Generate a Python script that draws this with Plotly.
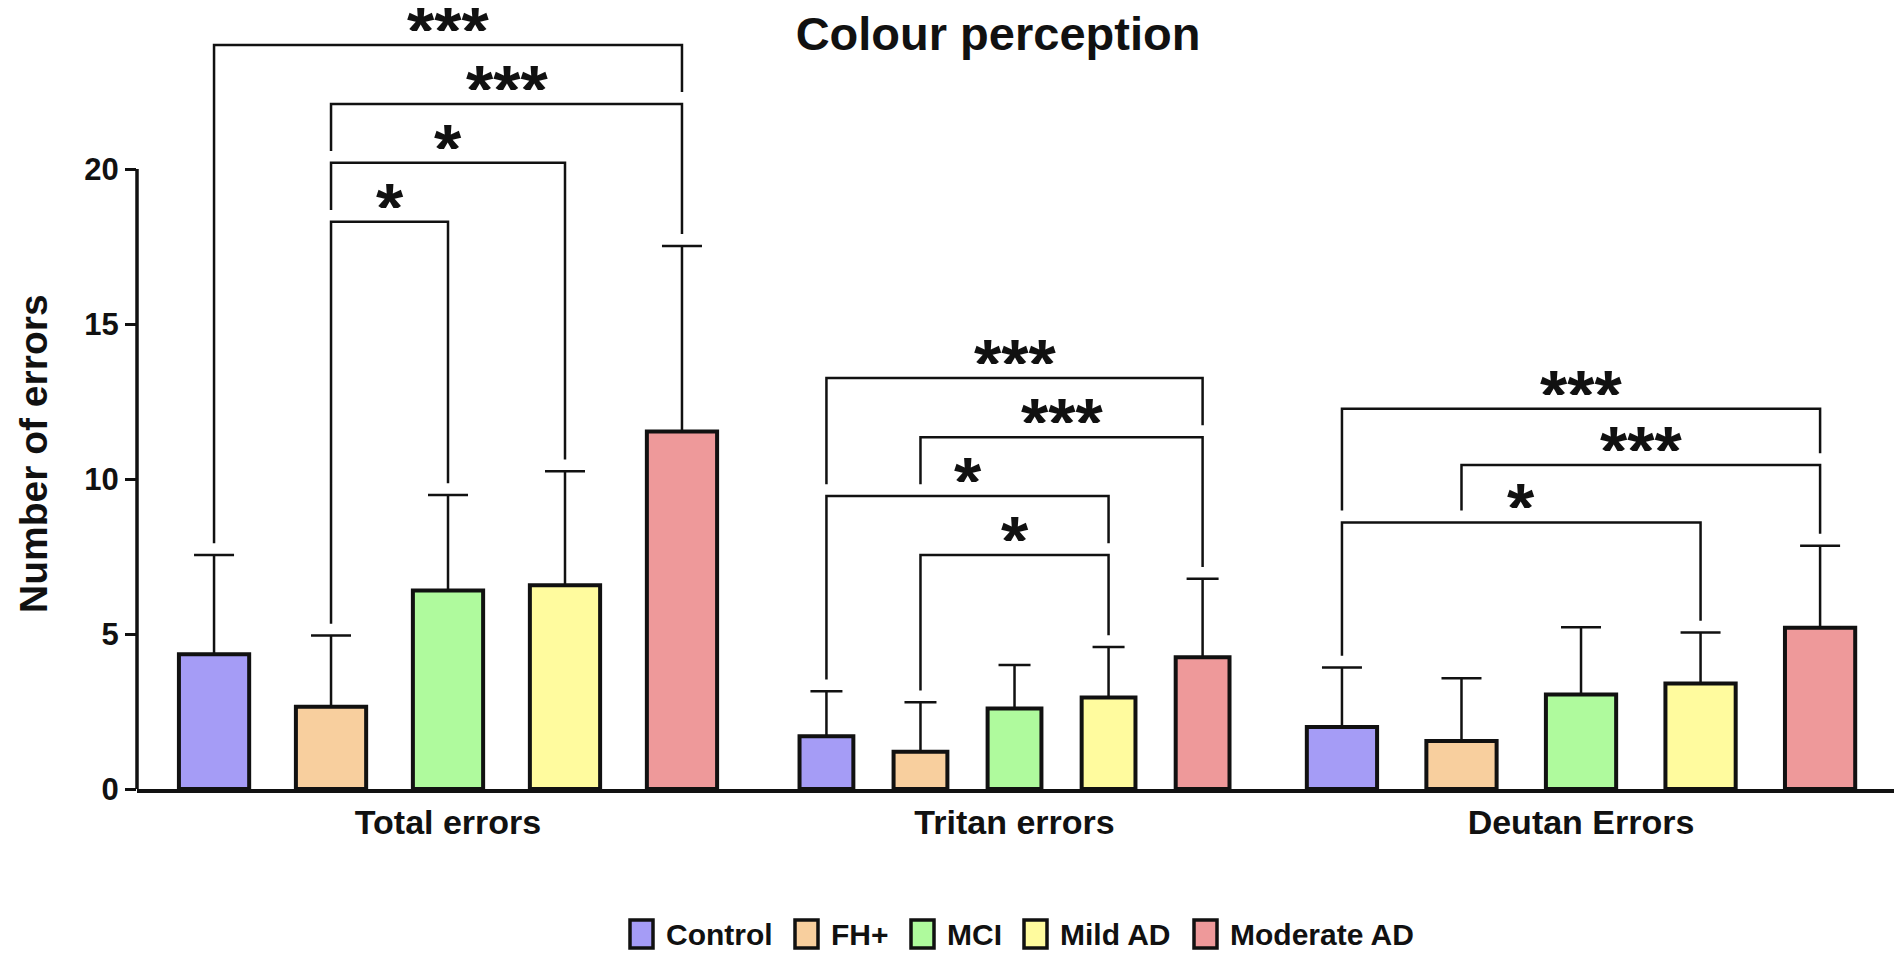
import plotly.graph_objects as go

# ---- data ----
CATEGORIES = ["Total errors", "Tritan errors", "Deutan Errors"]
GROUPS = ["Control", "FH+", "MCI", "Mild AD", "Moderate AD"]

control_mean = [4.35, 1.70, 2.00]
fh_mean = [2.65, 1.20, 1.55]
mci_mean = [6.40, 2.60, 3.05]
mild_mean = [6.57, 2.95, 3.40]
moderate_mean = [11.53, 4.25, 5.20]

control_sd = [3.20, 1.45, 1.92]
fh_sd = [2.30, 1.60, 2.02]
mci_sd = [3.08, 1.40, 2.17]
mild_sd = [3.68, 1.63, 1.65]
moderate_sd = [5.99, 2.53, 2.65]

# significance brackets (category, left group, right group, bracket level, stars)
sig_category = [0, 0, 0, 0, 1, 1, 1, 1, 2, 2, 2]
sig_left = [0, 1, 1, 1, 0, 1, 0, 1, 0, 1, 0]
sig_right = [4, 4, 3, 2, 4, 4, 3, 3, 4, 4, 3]
sig_level = [24.0, 22.1, 20.2, 18.3, 13.26, 11.35, 9.45, 7.55, 12.27, 10.45, 8.6]
sig_label = ["***", "***", "*", "*", "***", "***", "*", "*", "***", "***", "*"]

y_ticks = [0, 5, 10, 15, 20]

# ---- styling ----
means = [control_mean, fh_mean, mci_mean, mild_mean, moderate_mean]
sds = [control_sd, fh_sd, mci_sd, mild_sd, moderate_sd]
colors = ["#a59cf6", "#f8cf9e", "#affa9d", "#fffb9e", "#ee999a"]

bar_spacing = [0.2065, 0.166, 0.211]   # distance between bar centres, per category
bar_width = [0.124, 0.095, 0.124]
cap_width = [20, 16, 20]
gap = 0.38
FONT = "Liberation Sans, Arial, sans-serif"
INK = "#111111"

W, H = 1902, 958
M_L, M_R, M_T, M_B = 129, 14, 0, 177
PW, PH = W - M_L - M_R, H - M_T - M_B


def bar_pos(cat, k):
    return cat + (k - 2) * bar_spacing[cat]


def px_x(px):
    return (px - M_L) / PW


def px_y(py):
    return (H - M_B - py) / PH


fig = go.Figure()

for k, name in enumerate(GROUPS):
    for c in range(len(CATEGORIES)):
        fig.add_trace(go.Bar(
            x=[bar_pos(c, k)],
            y=[means[k][c]],
            width=[bar_width[c]],
            name=name,
            showlegend=False,
            marker=dict(color=colors[k], line=dict(color=INK, width=4)),
            error_y=dict(type="data", symmetric=False, array=[sds[k][c]], arrayminus=[0],
                         width=cap_width[c], thickness=2.5, color=INK),
        ))

shapes = []
annotations = []

# y axis line only up to 20
shapes.append(dict(type="line", xref="paper", yref="y", x0=0, x1=0, y0=-0.05, y1=max(y_ticks),
                   line=dict(color=INK, width=3.5)))


def leg_bottom(i, k):
    c = sig_category[i]
    lows = [means[k][c] + sds[k][c]]
    for j in range(len(sig_level)):
        if j != i and sig_category[j] == c and sig_level[j] < sig_level[i] \
                and sig_left[j] <= k <= sig_right[j]:
            lows.append(sig_level[j])
    return max(lows) + gap


for i in range(len(sig_level)):
    c = sig_category[i]
    xl = bar_pos(c, sig_left[i])
    xr = bar_pos(c, sig_right[i])
    lvl = sig_level[i]
    bl = leg_bottom(i, sig_left[i])
    br = leg_bottom(i, sig_right[i])
    shapes.append(dict(type="path", xref="x", yref="y",
                       path=f"M {xl},{bl} L {xl},{lvl} L {xr},{lvl} L {xr},{br}",
                       line=dict(color=INK, width=2.5)))
    # the asterisk sits high in its line box, so keep only the top part of the box
    annotations.append(dict(x=(xl + xr) / 2, y=lvl, xref="x", yref="y", text=sig_label[i],
                            showarrow=False, yanchor="bottom", yshift=12,
                            height=38, valign="top",
                            font=dict(family=FONT, size=70, color=INK, weight="bold")))

# y axis title
annotations.append(dict(x=px_x(25), y=px_y(446), xref="paper", yref="paper",
                        text="Number of errors", textangle=-90, showarrow=False,
                        xanchor="center", yanchor="middle",
                        font=dict(family=FONT, size=39, color=INK, weight="bold")))

# legend drawn by hand to get the large outlined swatches
legend_x = [622, 787, 903, 1016, 1186]
for k, name in enumerate(GROUPS):
    x0 = legend_x[k]
    shapes.append(dict(type="rect", xref="paper", yref="paper",
                       x0=px_x(x0), x1=px_x(x0 + 23), y0=px_y(940), y1=px_y(912),
                       fillcolor=colors[k], line=dict(color=INK, width=3.5)))
    annotations.append(dict(x=px_x(x0 + 34), y=px_y(926), xref="paper", yref="paper",
                            text=name, showarrow=False, xanchor="left", yanchor="middle",
                            font=dict(family=FONT, size=30, color=INK, weight="bold")))

fig.update_layout(
    width=W, height=H,
    margin=dict(l=M_L, r=M_R, t=M_T, b=M_B),
    paper_bgcolor="white", plot_bgcolor="white",
    barmode="overlay",
    showlegend=False,
    title=dict(text="Colour perception", x=px_x(990), xref="paper", xanchor="center",
               y=1 - 26 / H, yref="container", yanchor="middle",
               font=dict(family=FONT, size=47, color=INK, weight="bold")),
    xaxis=dict(range=[-0.549, 2.556], tickvals=[0, 1, 2], ticktext=CATEGORIES,
               showline=True, linecolor=INK, linewidth=3.5, ticks="",
               showgrid=False, zeroline=False,
               tickfont=dict(family=FONT, size=34, color=INK, weight="bold")),
    yaxis=dict(range=[0, PH / 31.0], tickvals=y_ticks,
               showline=False, ticks="outside", ticklen=11, tickwidth=2.5, tickcolor=INK,
               showgrid=False, zeroline=False,
               tickfont=dict(family=FONT, size=31, color=INK, weight="bold")),
    shapes=shapes,
    annotations=annotations,
)

fig.write_html("out.html")
